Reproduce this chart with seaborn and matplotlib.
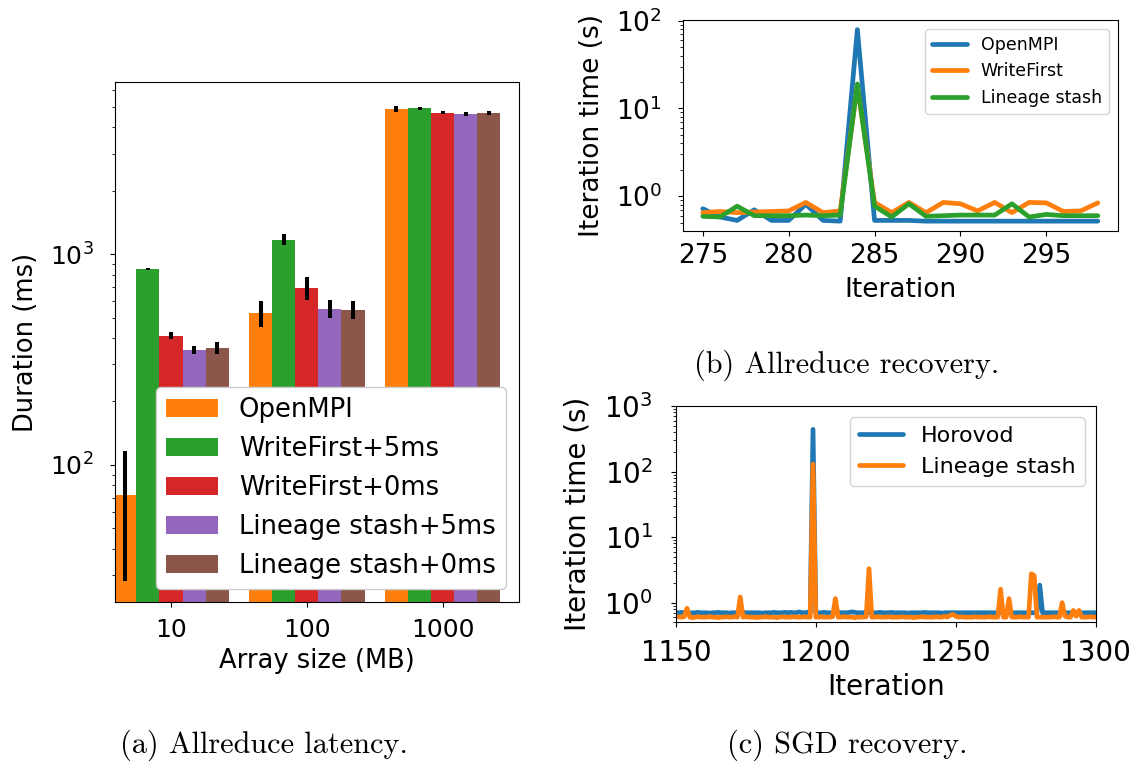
import matplotlib
matplotlib.use("Agg")
import matplotlib.pyplot as plt
import seaborn as sns
import pandas as pd

# (a) allreduce latency, mean and error per array size
sizes = ["10", "100", "1000"]
systems = ["OpenMPI", "WriteFirst+5ms", "WriteFirst+0ms",
           "Lineage stash+5ms", "Lineage stash+0ms"]
openmpi_ms = [72, 527, 4890]
openmpi_err = [44, 75, 160]
writefirst5_ms = [851, 1169, 4930]
writefirst5_err = [10, 70, 80]
writefirst0_ms = [410, 692, 4680]
writefirst0_err = [16, 85, 70]
lineage5_ms = [351, 551, 4640]
lineage5_err = [17, 54, 100]
lineage0_ms = [360, 545, 4680]
lineage0_err = [23, 54, 100]

# (b) allreduce recovery, iteration time (s)
iters_b = list(range(275, 299))
openmpi_b = [0.72, 0.58, 0.53, 0.70, 0.53, 0.53, 0.81, 0.53, 0.52, 79,
             0.53, 0.53, 0.53, 0.52, 0.52, 0.52, 0.52, 0.52, 0.52, 0.52,
             0.52, 0.52, 0.52, 0.52]
writefirst_b = [0.65, 0.67, 0.65, 0.66, 0.67, 0.68, 0.85, 0.65, 0.68, 18,
                0.85, 0.65, 0.85, 0.65, 0.85, 0.82, 0.68, 0.85, 0.65, 0.85,
                0.84, 0.67, 0.68, 0.84]
lineage_b = [0.59, 0.58, 0.77, 0.60, 0.60, 0.60, 0.61, 0.60, 0.61, 19,
             0.77, 0.58, 0.82, 0.59, 0.60, 0.61, 0.61, 0.61, 0.82, 0.58,
             0.62, 0.60, 0.60, 0.60]

# (c) SGD recovery, iteration time (s), iterations 1150..1300
iters_c = list(range(1150, 1301))
horovod_c = [
    0.70, 0.70, 0.71, 0.70, 0.70, 0.69, 0.70, 0.70, 0.71, 0.70,
    0.70, 0.70, 0.69, 0.70, 0.70, 0.71, 0.70, 0.70, 0.70, 0.69,
    0.70, 0.70, 0.70, 0.70, 0.71, 0.70, 0.70, 0.70, 0.70, 0.70,
    0.70, 0.69, 0.70, 0.70, 0.70, 0.71, 0.70, 0.70, 0.70, 0.71,
    0.70, 0.71, 0.70, 0.70, 0.72, 0.70, 0.70, 0.71, 0.70, 440,
    0.70, 0.70, 0.70, 0.71, 0.70, 0.70, 0.70, 0.70, 0.71, 0.70,
    0.70, 0.70, 0.71, 0.72, 0.71, 0.70, 0.70, 0.70, 0.71, 0.70,
    0.70, 0.70, 0.70, 0.71, 0.70, 0.70, 0.70, 0.71, 0.70, 0.70,
    0.70, 0.70, 0.70, 0.69, 0.70, 0.70, 0.70, 0.70, 0.70, 0.71,
    0.70, 0.70, 0.70, 0.70, 0.70, 0.69, 0.70, 0.70, 0.70, 0.70,
    0.70, 0.70, 0.70, 0.70, 0.70, 0.70, 0.70, 0.70, 0.70, 0.70,
    0.70, 0.70, 0.70, 0.70, 0.70, 0.70, 0.70, 0.70, 0.70, 0.70,
    0.70, 0.70, 0.70, 0.70, 0.70, 0.70, 0.70, 0.70, 0.70, 0.70,
    1.85, 0.70, 0.70, 0.70, 0.70, 0.70, 0.70, 0.70, 0.70, 0.70,
    0.70, 0.70, 0.70, 0.70, 0.70, 0.70, 0.70, 0.70, 0.70, 0.70,
    0.70,
]
lineage_c = [
    0.60, 0.61, 0.60, 0.61, 0.82, 0.60, 0.59, 0.60, 0.61, 0.60,
    0.60, 0.60, 0.61, 0.60, 0.60, 0.59, 0.60, 0.60, 0.61, 0.60,
    0.60, 0.61, 0.60, 1.22, 0.60, 0.61, 0.60, 0.60, 0.60, 0.59,
    0.60, 0.60, 0.61, 0.60, 0.60, 0.60, 0.59, 0.60, 0.61, 0.60,
    0.60, 0.60, 0.61, 0.60, 0.60, 0.60, 0.61, 0.60, 0.60, 130,
    0.60, 0.60, 0.61, 0.60, 0.60, 0.60, 0.61, 1.15, 0.60, 0.60,
    0.61, 0.60, 0.60, 0.60, 0.59, 0.60, 0.60, 0.60, 0.61, 3.3,
    0.60, 0.60, 0.61, 0.60, 0.60, 0.60, 0.61, 0.60, 0.60, 0.60,
    0.60, 0.61, 0.60, 0.60, 0.60, 0.59, 0.60, 0.60, 0.61, 0.60,
    0.60, 0.60, 0.60, 0.61, 0.60, 0.60, 0.62, 0.60, 0.64, 0.66,
    0.62, 0.60, 0.61, 0.60, 0.60, 0.60, 0.60, 0.61, 0.60, 0.60,
    0.60, 0.60, 0.61, 0.60, 0.60, 0.60, 1.6, 0.60, 0.60, 1.15,
    0.60, 0.60, 0.60, 0.61, 0.60, 0.60, 0.60, 2.75, 2.6, 0.60,
    0.60, 0.60, 0.60, 0.60, 0.60, 0.61, 0.60, 0.60, 1.0, 0.62,
    0.60, 0.60, 0.76, 0.62, 0.76, 0.60, 0.60, 0.60, 0.61, 0.60,
    0.60,
]

sns.set_style("ticks", rc={"axes.edgecolor": "black", "xtick.color": "black",
                           "ytick.color": "black", "text.color": "black",
                           "axes.labelcolor": "black"})
plt.rcParams["font.family"] = ["DejaVu Sans"]

fig = plt.figure(figsize=(11.42, 7.65), dpi=100)

# ---- (a) bars
bar_df = pd.DataFrame({
    "size": sizes * 5,
    "system": [s for s in systems for _ in sizes],
    "ms": openmpi_ms + writefirst5_ms + writefirst0_ms + lineage5_ms + lineage0_ms,
})
bar_err = [openmpi_err, writefirst5_err, writefirst0_err, lineage5_err, lineage0_err]
bar_colors = ["#ff7f0e", "#2ca02c", "#d62728", "#9467bd", "#8c564b"]

ax = fig.add_axes([0.1004, 0.2127, 0.354, 0.6797])
sns.barplot(data=bar_df, x="size", y="ms", hue="system", order=sizes,
            hue_order=systems, palette=bar_colors, errorbar=None,
            width=0.85, saturation=1, linewidth=0, edgecolor="none", ax=ax)
ax.set_yscale("log")
for cont, err in zip(ax.containers, bar_err):
    xs = [p.get_x() + p.get_width() / 2 for p in cont.patches]
    hs = [p.get_height() for p in cont.patches]
    ax.errorbar(xs, hs, yerr=err, fmt="none", ecolor="black",
                elinewidth=2.9, capsize=0)
ax.set_ylim(22.3, 6530)
ax.set_xlim(-0.415, 2.562)
ax.set_xlabel("Array size (MB)", fontsize=18.5)
ax.set_ylabel("Duration (ms)", fontsize=18.5, labelpad=8)
ax.tick_params(labelsize=18)
ax.tick_params(axis="x", pad=7.8)
ax.tick_params(axis="y", which="both", pad=11.5)
sns.move_legend(ax, "lower right", title=None, fontsize=18.6, framealpha=1)

# ---- (b) allreduce recovery
b_df = pd.DataFrame({
    "Iteration": iters_b * 3,
    "time": openmpi_b + writefirst_b + lineage_b,
    "system": ["OpenMPI"] * len(iters_b) + ["WriteFirst"] * len(iters_b)
              + ["Lineage stash"] * len(iters_b),
})
ax2 = fig.add_axes([0.5981, 0.6984, 0.3805, 0.2754])
sns.lineplot(data=b_df, x="Iteration", y="time", hue="system",
             palette=["#1f77b4", "#ff7f0e", "#2ca02c"], linewidth=3.4, ax=ax2)
ax2.set_yscale("log")
ax2.set_xticks([275, 280, 285, 290, 295])
ax2.set_xlabel("Iteration", fontsize=19, labelpad=5.5)
ax2.set_ylabel("Iteration time (s)", fontsize=19, labelpad=7.5)
ax2.tick_params(labelsize=19)
ax2.tick_params(axis="x", pad=5.3)
ax2.tick_params(axis="y", which="both", pad=11.5)
sns.move_legend(ax2, "upper right", title=None, fontsize=12.5)

# ---- (c) SGD recovery
c_df = pd.DataFrame({
    "Iteration": iters_c * 2,
    "time": horovod_c + lineage_c,
    "system": ["Horovod"] * len(iters_c) + ["Lineage stash"] * len(iters_c),
})
ax3 = fig.add_axes([0.5918, 0.1865, 0.3677, 0.2827])
sns.lineplot(data=c_df, x="Iteration", y="time", hue="system",
             palette=["#1f77b4", "#ff7f0e"], linewidth=3.4, ax=ax3)
ax3.set_yscale("log")
ax3.set_xlim(1150, 1300)
ax3.set_ylim(0.5, 1000)
ax3.set_xticks([1150, 1200, 1250, 1300])
ax3.set_xlabel("Iteration", fontsize=20)
ax3.set_ylabel("Iteration time (s)", fontsize=20, labelpad=9)
ax3.tick_params(labelsize=20)
ax3.tick_params(axis="x", pad=8.8)
ax3.tick_params(axis="y", which="both", pad=13)
sns.move_legend(ax3, "upper right", title=None, fontsize=16)

# captions
fig.text(263.7 / 1142, 1 - 745 / 765, "(a) Allreduce latency.",
         ha="center", va="center", family="cmr10", fontsize=21.8)
fig.text(846.7 / 1142, 1 - 365 / 765, "(b) Allreduce recovery.",
         ha="center", va="center", family="cmr10", fontsize=21.8)
fig.text(847.5 / 1142, 1 - 745 / 765, "(c) SGD recovery.",
         ha="center", va="center", family="cmr10", fontsize=21.8)

fig.savefig("out.png", dpi=100)
